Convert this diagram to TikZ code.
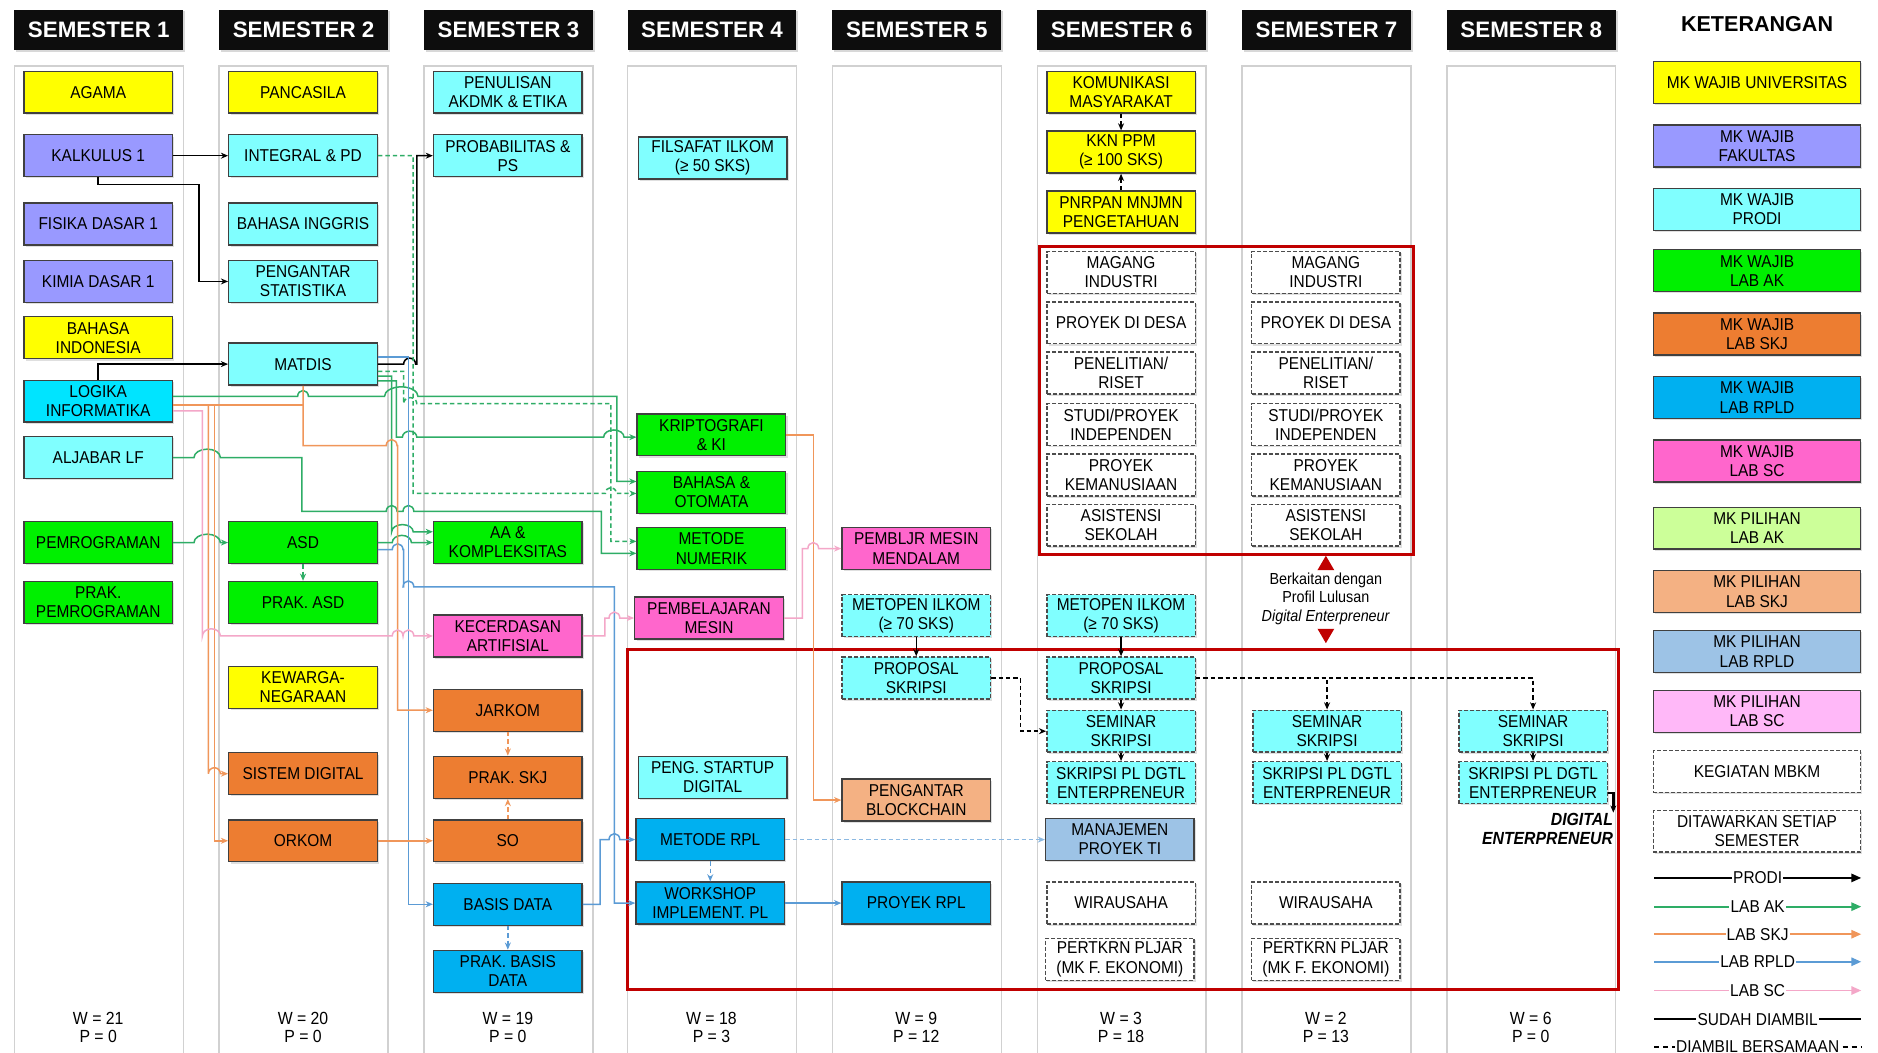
\documentclass[tikz,border=0pt]{standalone}
\usepackage{fontspec}
\setmainfont{Liberation Sans}[FakeStretch=0.9]
\newfontfamily\hdfont{Liberation Sans}
\usetikzlibrary{arrows.meta,shadows}
\definecolor{cUni}{HTML}{FFFF00}
\definecolor{cFak}{HTML}{9999FF}
\definecolor{cPro}{HTML}{80FFFF}
\definecolor{cLog}{HTML}{00E4FF}
\definecolor{cAK}{HTML}{00F000}
\definecolor{cSKJ}{HTML}{ED7D31}
\definecolor{cRPL}{HTML}{00B0F0}
\definecolor{cSC}{HTML}{FF66CC}
\definecolor{pAK}{HTML}{CCFF99}
\definecolor{pSKJ}{HTML}{F4B183}
\definecolor{pRPL}{HTML}{9DC3E6}
\definecolor{pSC}{HTML}{FFB8F8}
\definecolor{lAK}{HTML}{2EAD66}
\definecolor{lSKJ}{HTML}{F0965A}
\definecolor{lRPL}{HTML}{5B9BD5}
\definecolor{lSC}{HTML}{F4A7C8}
\definecolor{redbox}{HTML}{C00000}
\begin{document}
\begin{tikzpicture}[x=0.6pt,y=-0.6pt,
  mk/.style={draw=black!75, line width=0.7pt, minimum width=74.4pt, minimum height=21pt,
    inner sep=1pt, align=center, font=\fontsize{8.6}{9.6}\selectfont,
    drop shadow={opacity=0.25,shadow xshift=0.9pt,shadow yshift=-0.9pt}},
  lg/.style={mk, minimum width=103.8pt},
  dbox/.style={dash pattern=on 2pt off 1pt, draw=black!70},
  mbkm/.style={mk, fill=white, dbox},
  hdr/.style={fill=black!95, minimum width=84.6pt, minimum height=20.4pt, inner sep=0pt,
    text=white, font=\hdfont\bfseries\fontsize{11.2}{12}\selectfont,
    drop shadow={opacity=0.3,shadow xshift=0.9pt,shadow yshift=-0.9pt}},
  wp/.style={align=center, font=\fontsize{8.8}{9}\selectfont},
  con/.style={line width=0.75pt, -{Stealth[length=3.6pt,width=3pt]}},
  pr/.style={con, draw=black},
  ak/.style={con, draw=lAK},
  sk/.style={con, draw=lSKJ},
  rp/.style={con, draw=lRPL},
  scl/.style={con, draw=lSC},
  dsh/.style={dash pattern=on 2.2pt off 1.5pt},
  lgl/.style={fill=white, text=black, inner sep=0.6pt, font=\fontsize{8.6}{9.6}\selectfont},
  lgtip/.style={-{Triangle[length=5pt,width=4.2pt]}}
]
\useasboundingbox (0,0) rectangle (1568,879);
\fill[white] (0,0) rectangle (1568,879);

% semester panels
\foreach \x in {12,183,354,524,695,866,1037,1208}{
  \draw[black!18, line width=0.7pt, fill=white] (\x,55) rectangle ++(141,840);
}

% headers
\node[hdr] (h1) at (82.5,25) {SEMESTER 1};
\node[hdr] (h2) at (253.5,25) {SEMESTER 2};
\node[hdr] (h3) at (424.5,25) {SEMESTER 3};
\node[hdr] (h4) at (594.5,25) {SEMESTER 4};
\node[hdr] (h5) at (765.5,25) {SEMESTER 5};
\node[hdr] (h6) at (936.5,25) {SEMESTER 6};
\node[hdr] (h7) at (1107.5,25) {SEMESTER 7};
\node[hdr] (h8) at (1278.5,25) {SEMESTER 8};
\node[font=\hdfont\bfseries\fontsize{10.8}{12}\selectfont] (ket) at (1467,20) {KETERANGAN};

% red frames
\draw[redbox, line width=1.5pt] (868,206) rectangle (1180,463);
\draw[redbox, line width=1.5pt] (524,542) rectangle (1351,826);

% Semester 1
\node[mk,fill=cUni] (agama) at (82,77) {AGAMA};
\node[mk,fill=cFak] (kal) at (82,130) {KALKULUS 1};
\node[mk,fill=cFak] (fis) at (82,187) {FISIKA DASAR 1};
\node[mk,fill=cFak] (kim) at (82,235) {KIMIA DASAR 1};
\node[mk,fill=cUni] (bindo) at (82,282) {BAHASA\\INDONESIA};
\node[mk,fill=cLog] (logika) at (82,335) {LOGIKA\\INFORMATIKA};
\node[mk,fill=cPro] (aljabar) at (82,382) {ALJABAR LF};
\node[mk,fill=cAK] (pemrog) at (82,453) {PEMROGRAMAN};
\node[mk,fill=cAK] (prakpem) at (82,503) {PRAK.\\PEMROGRAMAN};

% Semester 2
\node[mk,fill=cUni] (pancasila) at (253,77) {PANCASILA};
\node[mk,fill=cPro] (int) at (253,130) {INTEGRAL \& PD};
\node[mk,fill=cPro] (bing) at (253,187) {BAHASA INGGRIS};
\node[mk,fill=cPro] (stat) at (253,235) {PENGANTAR\\STATISTIKA};
\node[mk,fill=cPro] (matdis) at (253,304) {MATDIS};
\node[mk,fill=cAK] (asd) at (253,453) {ASD};
\node[mk,fill=cAK] (prakasd) at (253,503) {PRAK. ASD};
\node[mk,fill=cUni] (kew) at (253,574) {KEWARGA-\\NEGARAAN};
\node[mk,fill=cSKJ] (sisdig) at (253,646) {SISTEM DIGITAL};
\node[mk,fill=cSKJ] (orkom) at (253,702) {ORKOM};

% Semester 3
\node[mk,fill=cPro] (penulisan) at (424,77) {PENULISAN\\AKDMK \& ETIKA};
\node[mk,fill=cPro] (prob) at (424,130) {PROBABILITAS \&\\PS};
\node[mk,fill=cAK] (aa) at (424,453) {AA \&\\KOMPLEKSITAS};
\node[mk,fill=cSC] (kecer) at (424,531) {KECERDASAN\\ARTIFISIAL};
\node[mk,fill=cSKJ] (jarkom) at (424,593) {JARKOM};
\node[mk,fill=cSKJ] (prakskj) at (424,649) {PRAK. SKJ};
\node[mk,fill=cSKJ] (so) at (424,702) {SO};
\node[mk,fill=cRPL] (basis) at (424,755) {BASIS DATA};
\node[mk,fill=cRPL] (prakbasis) at (424,811) {PRAK. BASIS\\DATA};

% Semester 4
\node[mk,fill=cPro] (filsafat) at (595,132) {FILSAFAT ILKOM\\(≥ 50 SKS)};
\node[mk,fill=cAK] (kripto) at (594,363) {KRIPTOGRAFI\\\& KI};
\node[mk,fill=cAK] (bahasa) at (594,411) {BAHASA \&\\OTOMATA};
\node[mk,fill=cAK] (metnum) at (594,458) {METODE\\NUMERIK};
\node[mk,fill=cSC] (pembel) at (592,516) {PEMBELAJARAN\\MESIN};
\node[mk,fill=cPro] (startup) at (595,649) {PENG. STARTUP\\DIGITAL};
\node[mk,fill=cRPL] (metrpl) at (593,701) {METODE RPL};
\node[mk,fill=cRPL] (workshop) at (593,754) {WORKSHOP\\IMPLEMENT. PL};

% Semester 5
\node[mk,fill=cSC] (pmm) at (765,458) {PEMBLJR MESIN\\MENDALAM};
\node[mk,fill=cPro,dbox] (metopen5) at (765,514) {METOPEN ILKOM\\(≥ 70 SKS)};
\node[mk,fill=cPro,dbox] (prop5) at (765,566) {PROPOSAL\\SKRIPSI};
\node[mk,fill=pSKJ] (blockchain) at (765,668) {PENGANTAR\\BLOCKCHAIN};
\node[mk,fill=cRPL] (proyekrpl) at (765,754) {PROYEK RPL};

% Semester 6
\node[mk,fill=cUni] (kom) at (936,77) {KOMUNIKASI\\MASYARAKAT};
\node[mk,fill=cUni] (kkn) at (936,127) {KKN PPM\\(≥ 100 SKS)};
\node[mk,fill=cUni] (pnr) at (936,177) {PNRPAN MNJMN\\PENGETAHUAN};
\node[mbkm] (mag6) at (936,227.5) {MAGANG\\INDUSTRI};
\node[mbkm] (desa6) at (936,269.5) {PROYEK DI DESA};
\node[mbkm] (riset6) at (936,311.5) {PENELITIAN/\\RISET};
\node[mbkm] (studi6) at (936,354.5) {STUDI/PROYEK\\INDEPENDEN};
\node[mbkm] (kem6) at (936,396.5) {PROYEK\\KEMANUSIAAN};
\node[mbkm] (asis6) at (936,438.5) {ASISTENSI\\SEKOLAH};
\node[mk,fill=cPro,dbox] (metopen6) at (936,514) {METOPEN ILKOM\\(≥ 70 SKS)};
\node[mk,fill=cPro,dbox] (prop6) at (936,566) {PROPOSAL\\SKRIPSI};
\node[mk,fill=cPro,dbox] (sem6) at (936,610.5) {SEMINAR\\SKRIPSI};
\node[mk,fill=cPro,dbox] (skr6) at (936,653.5) {SKRIPSI PL DGTL\\ENTERPRENEUR};
\node[mk,fill=pRPL] (manpro) at (935,701) {MANAJEMEN\\PROYEK TI};
\node[mbkm] (wira6) at (936,754) {WIRAUSAHA};
\node[mbkm] (pert6) at (935,801) {PERTKRN PLJAR\\(MK F. EKONOMI)};

% Semester 7
\node[mbkm] (mag7) at (1107,227.5) {MAGANG\\INDUSTRI};
\node[mbkm] (desa7) at (1107,269.5) {PROYEK DI DESA};
\node[mbkm] (riset7) at (1107,311.5) {PENELITIAN/\\RISET};
\node[mbkm] (studi7) at (1107,354.5) {STUDI/PROYEK\\INDEPENDEN};
\node[mbkm] (kem7) at (1107,396.5) {PROYEK\\KEMANUSIAAN};
\node[mbkm] (asis7) at (1107,438.5) {ASISTENSI\\SEKOLAH};
\node[mk,fill=cPro,dbox] (sem7) at (1108,610.5) {SEMINAR\\SKRIPSI};
\node[mk,fill=cPro,dbox] (skr7) at (1108,653.5) {SKRIPSI PL DGTL\\ENTERPRENEUR};
\node[mbkm] (wira7) at (1107,754) {WIRAUSAHA};
\node[mbkm] (pert7) at (1107,801) {PERTKRN PLJAR\\(MK F. EKONOMI)};

% Semester 8
\node[mk,fill=cPro,dbox] (sem8) at (1280,610.5) {SEMINAR\\SKRIPSI};
\node[mk,fill=cPro,dbox] (skr8) at (1280,653.5) {SKRIPSI PL DGTL\\ENTERPRENEUR};
\node[anchor=east, align=right, inner sep=0pt,
  font=\bfseries\itshape\fontsize{8.8}{9.6}\selectfont] (digent) at (1347,692) {DIGITAL\\ENTERPRENEUR};

% profil lulusan note
\fill[redbox] (1100,476) -- (1114,476) -- (1107,464) -- cycle;
\fill[redbox] (1100,525) -- (1114,525) -- (1107,537) -- cycle;
\node[align=center, font=\fontsize{8}{9.3}\selectfont] (profil) at (1107,500)
  {Berkaitan dengan\\Profil Lulusan\\\textit{Digital Enterpreneur}};

% W / P
\node[wp] (wp1) at (82,858) {W = 21\\P = 0};
\node[wp] (wp2) at (253,858) {W = 20\\P = 0};
\node[wp] (wp3) at (424,858) {W = 19\\P = 0};
\node[wp] (wp4) at (594,858) {W = 18\\P = 3};
\node[wp] (wp5) at (765,858) {W = 9\\P = 12};
\node[wp] (wp6) at (936,858) {W = 3\\P = 18};
\node[wp] (wp7) at (1107,858) {W = 2\\P = 13};
\node[wp] (wp8) at (1278,858) {W = 6\\P = 0};

% legend boxes
\node[lg,fill=cUni] (k1) at (1467,69) {MK WAJIB UNIVERSITAS};
\node[lg,fill=cFak] (k2) at (1467,122) {MK WAJIB\\FAKULTAS};
\node[lg,fill=cPro] (k3) at (1467,175) {MK WAJIB\\PRODI};
\node[lg,fill=cAK] (k4) at (1467,226) {MK WAJIB\\LAB AK};
\node[lg,fill=cSKJ] (k5) at (1467,279) {MK WAJIB\\LAB SKJ};
\node[lg,fill=cRPL] (k6) at (1467,332) {MK WAJIB\\LAB RPLD};
\node[lg,fill=cSC] (k7) at (1467,385) {MK WAJIB\\LAB SC};
\node[lg,fill=pAK] (k8) at (1467,441) {MK PILIHAN\\LAB AK};
\node[lg,fill=pSKJ] (k9) at (1467,494) {MK PILIHAN\\LAB SKJ};
\node[lg,fill=pRPL] (k10) at (1467,544) {MK PILIHAN\\LAB RPLD};
\node[lg,fill=pSC] (k11) at (1467,594) {MK PILIHAN\\LAB SC};
\node[lg,fill=white,dbox] (k12) at (1467,644) {KEGIATAN MBKM};
\node[lg,fill=white,dbox] (k13) at (1467,694) {DITAWARKAN SETIAP\\SEMESTER};

% legend lines
\coordinate (la1) at (1381,733); \coordinate (lb1) at (1554,733);
\coordinate (la2) at (1381,757); \coordinate (lb2) at (1554,757);
\coordinate (la3) at (1381,780); \coordinate (lb3) at (1554,780);
\coordinate (la4) at (1381,803); \coordinate (lb4) at (1554,803);
\coordinate (la5) at (1381,827); \coordinate (lb5) at (1554,827);
\coordinate (la6) at (1381,851); \coordinate (lb6) at (1554,851);
\coordinate (la7) at (1381,874); \coordinate (lb7) at (1554,874);
\draw[line width=0.9pt, black, lgtip] (la1) -- node[lgl]{PRODI} (lb1);
\draw[line width=0.9pt, lAK, lgtip] (la2) -- node[lgl]{LAB AK} (lb2);
\draw[line width=0.9pt, lSKJ, lgtip] (la3) -- node[lgl]{LAB SKJ} (lb3);
\draw[line width=0.9pt, lRPL, lgtip] (la4) -- node[lgl]{LAB RPLD} (lb4);
\draw[line width=0.9pt, lSC, lgtip] (la5) -- node[lgl]{LAB SC} (lb5);
\draw[line width=0.9pt, black] (la6) -- node[lgl]{SUDAH DIAMBIL} (lb6);
\draw[line width=0.9pt, black, dash pattern=on 2.5pt off 2pt] (la7) -- node[lgl]{DIAMBIL BERSAMAAN} (lb7);

% ===== connectors =====
% black (prodi)
\draw[pr] (kal) -- (int);
\draw[pr] (kal.south) |- (166,154) |- (stat.west);
\draw[pr] (logika.north) |- (matdis.west);
\draw[pr] (matdis.east) -- (337,304) arc[start angle=180,end angle=360,x radius=5,y radius=5]
  -- (348,304) -- (348,130) -- (prob.west);

% green (lab AK)
\draw[ak,dsh] (int.east) -- (345,130) -- (345,412) -- (505.5,412)
  arc[start angle=180,end angle=360,x radius=4.5,y radius=5] -- (bahasa.west |- 0,412);
\draw[ak] (logika.east |- 0,331) -- (248.5,331)
  arc[start angle=180,end angle=360,x radius=4.5,y radius=5] -- (321,331)
  arc[start angle=180,end angle=360,x radius=14,y radius=8] -- (515,331) -- (515,402)
  -- (bahasa.west |- 0,402);
\draw[ak] (matdis.east |- 0,318) -- (331,318) -- (331,365) -- (336,365)
  arc[start angle=180,end angle=360,x radius=6,y radius=5] -- (504,365)
  arc[start angle=180,end angle=360,x radius=8.5,y radius=6] -- (kripto.west |- 0,365);
\draw[ak] (matdis.east |- 0,314) -- (327,314) -- (327,444)
  arc[start angle=180,end angle=360,x radius=9,y radius=6] -- (aa.west |- 0,444);
\draw[ak,dsh] (matdis.east |- 0,310) -- (337,310) -- (337,337)
  arc[start angle=180,end angle=360,x radius=5.5,y radius=5] -- (510,337) -- (510,452)
  -- (metnum.west |- 0,452);
\draw[ak] (aljabar.east) -- (162,382)
  arc[start angle=180,end angle=360,x radius=11,y radius=7] -- (252,382) -- (252,427)
  -- (322.5,427) arc[start angle=180,end angle=360,x radius=4.5,y radius=5]
  -- (336.5,427) arc[start angle=180,end angle=360,x radius=4.5,y radius=5]
  -- (502,427) -- (502,462) -- (metnum.west |- 0,462);
\draw[ak] (pemrog) -- (162,453)
  arc[start angle=180,end angle=360,x radius=11,y radius=7] -- (asd);
\draw[ak] (asd) -- (327.5,453)
  arc[start angle=180,end angle=360,x radius=8,y radius=6] -- (aa);
\draw[ak,dsh] (asd) -- (prakasd);

% blue (lab RPLD)
\draw[rp] (matdis.east |- 0,298) -- (341,298) -- (341,755) -- (basis);
\draw[rp] (asd.east |- 0,459) -- (327.5,459)
  arc[start angle=180,end angle=360,x radius=4.5,y radius=5] -- (337,459) -- (337,490)
  -- (336.5,490) -- (336.5,490) arc[start angle=180,end angle=360,x radius=4.5,y radius=5]
  -- (513,490) -- (513,754) -- (workshop);
\draw[rp] (basis) -- (501,755) -- (501,701) -- (508.5,701)
  arc[start angle=180,end angle=360,x radius=4.5,y radius=5] -- (metrpl);
\draw[rp,dsh] (metrpl) -- (workshop);
\draw[rp,dsh,draw=lRPL!70] (metrpl) -- (manpro);
\draw[rp] (workshop) -- (proyekrpl);
\draw[rp,dsh] (basis) -- (prakbasis);

% orange (lab SKJ)
\draw[sk] (matdis.south) -- (253,372) -- (322.5,372)
  arc[start angle=180,end angle=360,x radius=4.5,y radius=5] -- (332,372) -- (332,593) -- (jarkom);
\draw[line width=0.75pt, lSKJ] (logika.east |- 0,338) -- (matdis.south |- 0,338);
\draw[sk] (logika.east |- 0,338) -- (179,338) -- (179,702) -- (orkom);
\draw[sk] (logika.east |- 0,338) -- (174,338) -- (174,646)
  arc[start angle=180,end angle=360,x radius=5,y radius=5] -- (sisdig);
\draw[sk] (orkom) -- (so);
\draw[sk,dsh] (jarkom) -- (prakskj);
\draw[sk,dsh] (so) -- (prakskj);
\draw[sk] (kripto) -| (679,668) -- (blockchain);

% pink (lab SC)
\draw[scl] (logika.east |- 0,343) -- (169,343) -- (169,531)
  arc[start angle=180,end angle=360,x radius=7.5,y radius=6] -- (327.5,531)
  arc[start angle=180,end angle=360,x radius=4.5,y radius=5]
  arc[start angle=180,end angle=360,x radius=4.5,y radius=5] -- (kecer);
\draw[scl] (kecer) -- (505,531) -- (505,516) -- (508.5,516)
  arc[start angle=180,end angle=360,x radius=4.5,y radius=5] -- (pembel);
\draw[scl] (pembel) -- (670,516) -- (670,458) -- (674.5,458)
  arc[start angle=180,end angle=360,x radius=4.5,y radius=5] -- (pmm);

% black dashed / sequence
\draw[pr,dsh] (kom) -- (kkn);
\draw[pr,dsh] (pnr) -- (kkn);
\draw[pr] (metopen5) -- (prop5);
\draw[pr] (metopen6) -- (prop6);
\draw[pr,dsh] (prop5) -| (852,610.5) -- (sem6);
\draw[pr] (prop6) -- (sem6);
\draw[pr] (sem6) -- (skr6);
\draw[pr] (sem7) -- (skr7);
\draw[pr] (sem8) -- (skr8);
\draw[pr,dsh] (prop6) -| (sem7.north);
\draw[pr,dsh] (prop6) -| (sem8.north);
\draw[pr, line width=1.2pt] (skr8.east |- 0,662) -| (digent.north east);
\end{tikzpicture}
\end{document}
